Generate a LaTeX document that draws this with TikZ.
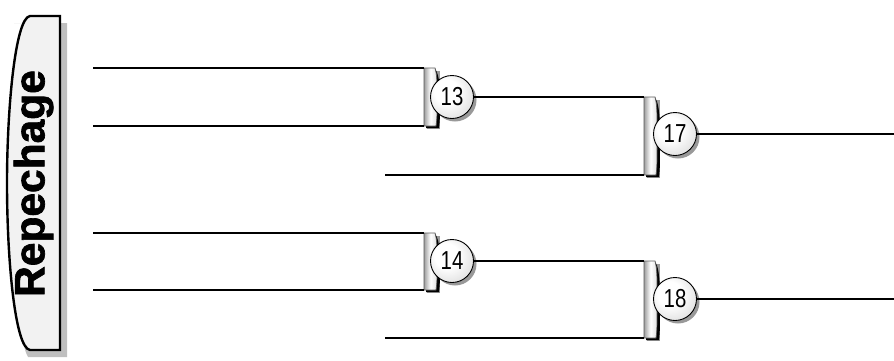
\documentclass[tikz,border=0pt]{standalone}
\usepackage{fontspec}
\setmainfont{Liberation Sans}
\newfontfamily\titlefont[FakeBold=1.6]{Liberation Sans Bold}
\definecolor{shadowgray}{gray}{0.75}
\definecolor{paneldark}{gray}{0.62}
\pgfdeclareradialshading{seedball}{\pgfpoint{-9bp}{9bp}}{color(0bp)=(white); color(14bp)=(white); color(34bp)=(black!14); color(50bp)=(black!45)}
\tikzset{
  wire/.style={draw=black,line width=1.7pt},
  seed/.style={circle,draw=black,line width=0.9pt,minimum size=43pt,inner sep=0pt,
    shading=seedball,font=\fontsize{20}{20}\selectfont},
  seedshadow/.style={circle,fill=black!40,minimum size=43pt,inner sep=0pt},
}
% #1 name, #2 x of left edge, #3 top y, #4 bottom y
\newcommand{\bracketshape}[4]{%
  \fill[black!40] ({#2+3},{#3+3}) rectangle ({#2+16},{#4+3});
  \fill[black] ({#2+11},{#3}) .. controls ({#2+14},{#3+6}) and ({#2+16},{#3+12}) .. ({#2+16},{(#3+#4)/2})
     .. controls ({#2+16},{#4-12}) and ({#2+16},{#4-6}) .. ({#2+15},{#4+2}) -- ({#2+2},{#4+2}) -- ({#2+2},{#4-4}) -- cycle;
  \path[draw=black!65,line width=0.7pt,left color=paneldark,right color=black!12,middle color=white]
     ({#2},{#3}) -- ({#2+11},{#3}) .. controls ({#2+13},{#3+8}) and ({#2+13},{#3+12}) .. ({#2+13},{(#3+#4)/2})
     .. controls ({#2+13},{#4-12}) and ({#2+13},{#4-6}) .. ({#2+12},{#4}) -- ({#2},{#4}) -- cycle;
  \coordinate (#1) at ({#2},{(#3+#4)/2});
  \coordinate (#1t) at ({#2},{#3});
  \coordinate (#1b) at ({#2},{#4});
}
\begin{document}
\begin{tikzpicture}[x=1pt,y=-1pt]
\useasboundingbox (0,0) rectangle (894,360);
% banner
\fill[shadowgray] (14,23) -- (67,23) -- (67,357) -- (28,357)
   .. controls (18,340) and (14,260) .. (14,190) .. controls (14,110) and (18,40) .. (28,23) -- cycle;
\path[draw=black,line width=2.4pt,fill=black!5]
   (60,16) -- (30,16) .. controls (15,18) and (7,110) .. (7,183)
   .. controls (7,260) and (15,348) .. (30,350) -- (60,350) -- cycle;
\node[rotate=90,font=\titlefont\fontsize{42.5}{42.5}\selectfont,text=black,inner sep=0pt,anchor=center] (title) at (33.5,183.5) {Repechage};
% free ends
\coordinate (a1) at (93,68);
\coordinate (a2) at (93,126);
\coordinate (a3) at (385,175);
\coordinate (b1) at (93,233);
\coordinate (b2) at (93,290);
\coordinate (b3) at (385,338);
\coordinate (o17) at (894,134);
\coordinate (o18) at (894,299);
% brackets
\bracketshape{k13}{424}{68}{126}
\bracketshape{k17}{644}{97}{175}
\bracketshape{k14}{424}{233}{290}
\bracketshape{k18}{644}{261}{338}
% wires into brackets
\draw[wire] (a1) -- (k13t);
\draw[wire] (a2) -- (k13b);
\draw[wire] (a3) -- (k17b);
\draw[wire] (b1) -- (k14t);
\draw[wire] (b2) -- (k14b);
\draw[wire] (b3) -- (k18b);
% seeds
\foreach \n/\px/\py in {13/452/97,17/675/134,14/452/261,18/675/299}{
  \node[seedshadow] at (\px+3,\py+3) {};
  \node[seed] (s\n) at (\px,\py) {\scalebox{1.02}[1.3]{\n}};
}
\draw[wire] (s13.east) -- (k17t);
\draw[wire] (s14.east) -- (k18t);
\draw[wire] (s17.east) -- (o17);
\draw[wire] (s18.east) -- (o18);
\end{tikzpicture}
\end{document}
